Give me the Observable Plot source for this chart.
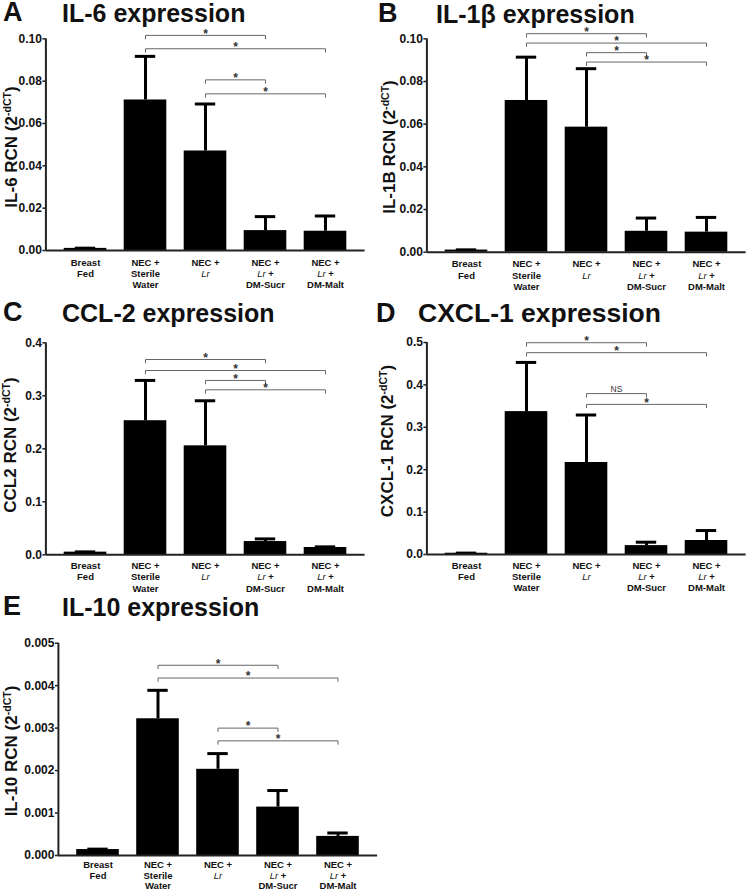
<!DOCTYPE html>
<html><head><meta charset="utf-8">
<script src="https://cdn.jsdelivr.net/npm/d3@7"></script>
<script src="https://cdn.jsdelivr.net/npm/@observablehq/plot@0.6"></script>
<style>
body{margin:0;background:#fff;}
#fig{position:relative;width:747px;height:889px;font-family:"Liberation Sans",Arial,sans-serif;color:#111;overflow:hidden;background:#fff}
#fig svg{position:absolute}
.letter,.title{position:absolute;font-weight:bold;line-height:0.8;white-space:nowrap;color:#111}
.ylab{position:absolute;font-weight:bold;font-size:17px;line-height:17px;white-space:nowrap;transform:translate(-50%,-50%) rotate(-90deg);color:#111}
.ylab sup{font-size:0.62em;vertical-align:0;position:relative;top:-0.6em}
</style></head><body><div id="fig"></div><script>
// ---- data ----
const groups = ["Breast Fed", "NEC + Sterile Water", "NEC + Lr", "NEC + Lr + DM-Sucr", "NEC + Lr + DM-Malt"];
const tickLabels = ["Breast\nFed", "NEC +\nSterile\nWater", "NEC +\nLr", "NEC +\nLr +\nDM-Sucr", "NEC +\nLr +\nDM-Malt"];
const bracketFrom = [1, 1, 2, 2];
const bracketTo = [3, 4, 3, 4];

const il6Mean = [0.001, 0.0711, 0.047, 0.0094, 0.0091];
const il6Sem = [0.0001, 0.0206, 0.0222, 0.0066, 0.0072];
const il6Ticks = [0, 0.02, 0.04, 0.06, 0.08, 0.10];
const il6BracketY = [0.1016, 0.0953, 0.0806, 0.074];
const il6BracketLabel = ["*", "*", "*", "*"];

const il1bMean = [0.001, 0.0711, 0.0586, 0.0098, 0.0094];
const il1bSem = [0.0001, 0.0203, 0.0274, 0.0062, 0.0069];
const il1bTicks = [0, 0.02, 0.04, 0.06, 0.08, 0.10];
const il1bBracketY = [0.1024, 0.098, 0.0935, 0.0891];
const il1bBracketLabel = ["*", "*", "*", "*"];

const ccl2Mean = [0.005, 0.253, 0.2056, 0.025, 0.0138];
const ccl2Sem = [0.0005, 0.076, 0.085, 0.005, 0.0012];
const ccl2Ticks = [0, 0.1, 0.2, 0.3, 0.4];
const ccl2BracketY = [0.3685, 0.3477, 0.329, 0.3113];
const ccl2BracketLabel = ["*", "*", "*", "*"];

const cxcl1Mean = [0.003, 0.337, 0.217, 0.021, 0.033];
const cxcl1Sem = [0.0003, 0.116, 0.112, 0.008, 0.0235];
const cxcl1Ticks = [0, 0.1, 0.2, 0.3, 0.4, 0.5];
const cxcl1BracketY = [0.4995, 0.476, 0.3795, 0.354];
const cxcl1BracketLabel = ["*", "*", "NS", "*"];

const il10Mean = [0.00014, 0.00322, 0.00203, 0.00114, 0.00045];
const il10Sem = [0.00001, 0.00067, 0.00037, 0.00039, 0.00008];
const il10Ticks = [0, 0.001, 0.002, 0.003, 0.004, 0.005];
const il10BracketY = [0.00448, 0.00418, 0.0030, 0.0027];
const il10BracketLabel = ["*", "*", "*", "*"];

// ---- layout ----
const panels = [
  {letter: "A", title: "IL-6 expression", ylab: "IL-6 RCN (2", mean: il6Mean, sem: il6Sem, ticks: il6Ticks, fmt: ".2f", bY: il6BracketY, bL: il6BracketLabel,
   left: 0, top: 0, w: 373, h: 290, mL: 45.4, mR: 8.4, mT: 38.3, mB: 40, pad: 7, lh: 1.2, tfs: 25,
   lx: 3, tx: 62, base: 22, ylx: 12, yly: 147},
  {letter: "B", title: "IL-1β expression", ylab: "IL-1B RCN (2", mean: il1bMean, sem: il1bSem, ticks: il1bTicks, fmt: ".2f", bY: il1bBracketY, bL: il1bBracketLabel,
   left: 373, top: 0, w: 374, h: 290, mL: 53.4, mR: 1.4, mT: 38.3, mB: 38.3, pad: 7, lh: 1.2, tfs: 25,
   lx: 378, tx: 436, base: 23, ylx: 390, yly: 147},
  {letter: "C", title: "CCL-2 expression", ylab: "CCL2 RCN (2", mean: ccl2Mean, sem: ccl2Sem, ticks: ccl2Ticks, fmt: ".1f", bY: ccl2BracketY, bL: ccl2BracketLabel,
   left: 0, top: 290, w: 373, h: 300, mL: 45.4, mR: 8.4, mT: 52.3, mB: 35.7, pad: 6, lh: 1.2, tfs: 25,
   lx: 3, tx: 62, base: 322, ylx: 11, yly: 445},
  {letter: "D", title: "CXCL-1 expression", ylab: "CXCL-1 RCN (2", mean: cxcl1Mean, sem: cxcl1Sem, ticks: cxcl1Ticks, fmt: ".1f", bY: cxcl1BracketY, bL: cxcl1BracketLabel,
   left: 373, top: 290, w: 374, h: 300, mL: 53.4, mR: 1.4, mT: 52, mB: 36, pad: 6, lh: 1.2, tfs: 26.5,
   lx: 376, tx: 418, base: 323, ylx: 388, yly: 441},
  {letter: "E", title: "IL-10 expression", ylab: "IL-10 RCN (2", mean: il10Mean, sem: il10Sem, ticks: il10Ticks, fmt: ".3f", bY: il10BracketY, bL: il10BracketLabel,
   left: 0, top: 590, w: 380, h: 299, mL: 57.9, mR: 2.9, mT: 52.7, mB: 34, pad: 5, lh: 1.12, tfs: 25,
   lx: 3, tx: 62, base: 616, ylx: 12, yly: 751}
];

const fig = document.getElementById("fig");
const FONT = '"Liberation Sans", Arial, sans-serif';
const xDomain = [-0.66, 4.66];
const barHalf = 0.355, capHalf = 0.17;
const svgns = "http://www.w3.org/2000/svg";
const BASE = 0.7465; // baseline offset (em) for line-height 0.8

function build(p) {
  const data = groups.map((g, i) => ({i, g, mean: p.mean[i], top: p.mean[i] + p.sem[i]}));
  const br = p.bY.map((y, k) => ({k, a: bracketFrom[k], b: bracketTo[k], y, label: p.bL[k]}));
  const ymax = p.ticks[p.ticks.length - 1];
  const tickLen = ymax * 0.016;
  const brPts = br.flatMap(d => [
    {k: d.k, x: d.a, y: d.y - tickLen}, {k: d.k, x: d.a, y: d.y},
    {k: d.k, x: d.b, y: d.y}, {k: d.k, x: d.b, y: d.y - tickLen}]);
  const svg = Plot.plot({
    width: p.w, height: p.h,
    marginLeft: p.mL, marginRight: p.mR, marginTop: p.mT, marginBottom: p.mB,
    x: {domain: xDomain},
    y: {domain: [0, ymax]},
    style: {fontFamily: FONT, background: "transparent", overflow: "visible", color: "#111"},
    marks: [
      Plot.rectY(data, {x1: d => d.i - barHalf, x2: d => d.i + barHalf, y1: 0, y2: "mean", fill: "#000"}),
      Plot.ruleX(data, {x: "i", y1: "mean", y2: "top", stroke: "#000", strokeWidth: 3}),
      Plot.ruleY(data, {y: "top", x1: d => d.i - capHalf, x2: d => d.i + capHalf, stroke: "#000", strokeWidth: 3}),
      Plot.ruleY([0], {stroke: "#222", strokeWidth: 2}),
      Plot.ruleX([xDomain[0]], {y1: 0, y2: ymax, stroke: "#222", strokeWidth: 2}),
      Plot.axisY({ticks: p.ticks, tickFormat: d3.format(p.fmt), tickSize: 3, tickPadding: 1, fontSize: 12, fontWeight: "bold", fill: "#111", stroke: "#222", strokeWidth: 1.5, label: null}),
      Plot.axisX({ticks: [0, 1, 2, 3, 4], tickFormat: i => tickLabels[i], tickSize: 0, tickPadding: p.pad, fontSize: 9.5, fontWeight: "bold", lineHeight: p.lh, fill: "#111", label: null}),
      Plot.line(brPts, {x: "x", y: "y", z: "k", stroke: "#666", strokeWidth: 1}),
      Plot.text(br.filter(d => d.label === "*"), {x: d => (d.a + d.b) / 2, y: "y", text: "label", fontSize: 12, fontWeight: "bold", fill: "#333", lineAnchor: "middle", dy: -1.5}),
      Plot.text(br.filter(d => d.label !== "*"), {x: d => (d.a + d.b) / 2, y: "y", text: "label", fontSize: 8.5, fill: "#333", lineAnchor: "middle", dy: -4.7})
    ]
  });
  svg.style.left = p.left + "px";
  svg.style.top = p.top + "px";
  // italicize "Lr"
  svg.querySelectorAll("tspan, text").forEach(el => {
    if (el.childElementCount === 0) {
      const m = /^Lr( \+)?$/.exec(el.textContent);
      if (m) {
        el.textContent = "";
        const it = document.createElementNS(svgns, "tspan");
        it.setAttribute("font-style", "italic");
        it.setAttribute("font-weight", "normal");
        it.textContent = "Lr";
        el.appendChild(it);
        if (m[1]) el.appendChild(document.createTextNode(m[1]));
      }
    }
  });
  fig.appendChild(svg);

  const L = document.createElement("div");
  L.className = "letter";
  L.style.fontSize = "27px";
  L.style.left = p.lx + "px";
  L.style.top = (p.base - BASE * 27) + "px";
  L.textContent = p.letter;
  fig.appendChild(L);

  const T = document.createElement("div");
  T.className = "title";
  T.style.fontSize = p.tfs + "px";
  T.style.left = p.tx + "px";
  T.style.top = (p.base - BASE * p.tfs) + "px";
  T.textContent = p.title;
  fig.appendChild(T);

  const Y = document.createElement("div");
  Y.className = "ylab";
  Y.style.left = p.ylx + "px";
  Y.style.top = p.yly + "px";
  Y.innerHTML = p.ylab + "<sup>-dCT</sup>)";
  fig.appendChild(Y);
}
panels.forEach(build);
</script></body></html>
